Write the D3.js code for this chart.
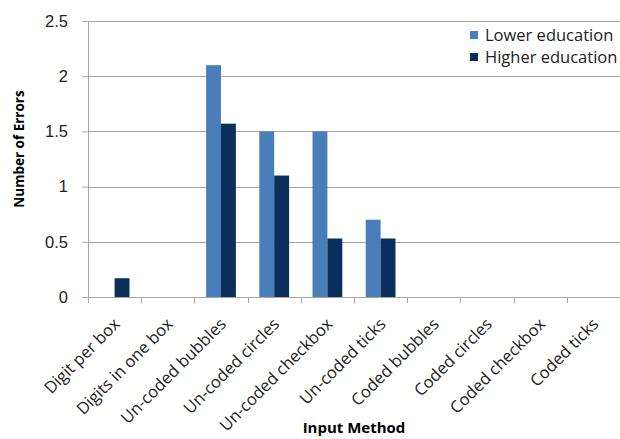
<!DOCTYPE html>
<html>
<head>
<meta charset="utf-8">
<script src="https://cdn.jsdelivr.net/npm/d3@7"></script>
<style>
  body { margin: 0; background: #fff; }
  svg { display: block; font-family: "Open Sans", "Noto Sans", sans-serif; }
</style>
</head>
<body>
<div id="chart"></div>
<script>
// categories along the x axis
var methods = ["Digit per box", "Digits in one box", "Un-coded bubbles", "Un-coded circles",
  "Un-coded checkbox", "Un-coded ticks", "Coded bubbles", "Coded circles",
  "Coded checkbox", "Coded ticks"];

// series values (errors)
var lowerEdu = [0, 0, 2.1, 1.5, 1.5, 0.7, 0, 0, 0, 0];
var higherEdu = [0.17, 0, 1.57, 1.1, 0.53, 0.53, 0, 0, 0, 0];

var seriesNames = ["Lower education", "Higher education"];
var yTicks = [0, 0.5, 1, 1.5, 2, 2.5];

var colors = ["#4a7ebb", "#0b2f5c"];

var margin = {top: 21, right: 0, bottom: 142, left: 88},
  width = 620 - margin.left - margin.right,
  height = 439 - margin.top - margin.bottom;

var svg = d3.select("#chart")
  .append("svg")
  .attr("width", 620)
  .attr("height", 439);

var g = svg.append("g")
  .attr("transform", "translate(" + margin.left + "," + margin.top + ")");

var x = d3.scaleBand()
  .domain(methods)
  .range([0, width])
  .padding(0);

// position of the two bars inside a category
var xSub = d3.scaleBand()
  .domain(seriesNames)
  .range([x.bandwidth() * 0.22, x.bandwidth() * 0.78]);

var y = d3.scaleLinear()
  .domain([0, 2.5])
  .range([height, 0]);

// gridlines
g.selectAll(".grid")
  .data(yTicks)
  .enter().append("line")
  .attr("x1", 0)
  .attr("x2", width)
  .attr("y1", function(d) { return Math.round(y(d)) + 0.5; })
  .attr("y2", function(d) { return Math.round(y(d)) + 0.5; })
  .attr("stroke", "#a6a6a6")
  .attr("stroke-width", 1);

// build rows from the arrays
var rows = methods.map(function(m, i) {
  return {method: m, values: [lowerEdu[i], higherEdu[i]]};
});

var groups = g.selectAll(".cat")
  .data(rows)
  .enter().append("g")
  .attr("transform", function(d) { return "translate(" + x(d.method) + ",0)"; });

groups.selectAll("rect")
  .data(function(d) {
    return d.values.map(function(v, j) { return {name: seriesNames[j], value: v, j: j}; });
  })
  .enter().append("rect")
  .filter(function(d) { return d.value > 0; })
  .attr("x", function(d) { return xSub(d.name); })
  .attr("width", xSub.bandwidth())
  .attr("y", function(d) { return y(d.value); })
  .attr("height", function(d) { return y(0) - y(d.value); })
  .attr("fill", function(d) { return colors[d.j]; });

// y axis
var yAxis = g.append("g")
  .call(d3.axisLeft(y).tickValues(yTicks).tickSize(6).tickPadding(14)
    .tickFormat(function(d) { return d; }));
yAxis.select(".domain").attr("stroke", "#a6a6a6").attr("d", "M0.5," + height + "V0");
yAxis.selectAll(".tick line").attr("stroke", "#a6a6a6");
yAxis.selectAll(".tick text")
  .attr("fill", "#222")
  .style("font-size", "16.5px");

// x axis
var xAxis = g.append("g")
  .attr("transform", "translate(0," + height + ")")
  .call(d3.axisBottom(x).tickSize(0).tickFormat(""));
xAxis.select(".domain").attr("stroke", "#a6a6a6");

// category boundary ticks
g.selectAll(".xtick")
  .data(methods.concat([null]))
  .enter().append("line")
  .attr("x1", function(d, i) { return Math.round(i * x.step()) + 0.5; })
  .attr("x2", function(d, i) { return Math.round(i * x.step()) + 0.5; })
  .attr("y1", height)
  .attr("y2", height + 6)
  .attr("stroke", "#a6a6a6");

// rotated labels
g.selectAll(".xlabel")
  .data(methods)
  .enter().append("text")
  .attr("transform", function(d) {
    return "translate(" + (x(d) + x.bandwidth() / 2 - 2) + "," + (height + 20) + ") rotate(-45)";
  })
  .attr("text-anchor", "end")
  .attr("dy", "0.7em")
  .attr("fill", "#222")
  .style("font-size", "16.5px")
  .text(function(d) { return d; });

// axis titles
svg.append("text")
  .attr("transform", "translate(24," + 149 + ") rotate(-90)")
  .attr("text-anchor", "middle")
  .style("font-size", "13.5px")
  .style("font-weight", "bold")
  .text("Number of Errors");

svg.append("text")
  .attr("x", 354)
  .attr("y", 433)
  .attr("text-anchor", "middle")
  .style("font-size", "15px")
  .style("font-weight", "bold")
  .text("Input Method");

// legend
var legend = svg.append("g")
  .attr("transform", "translate(470,30)");

var items = legend.selectAll("g")
  .data(seriesNames)
  .enter().append("g")
  .attr("transform", function(d, i) { return "translate(0," + (i * 22) + ")"; });

items.append("rect")
  .attr("width", 8)
  .attr("height", 8)
  .attr("y", 1)
  .attr("fill", function(d, i) { return colors[i]; });

items.append("text")
  .attr("x", 15)
  .attr("y", 5)
  .attr("dy", "0.35em")
  .attr("fill", "#222")
  .style("font-size", "16.5px")
  .text(function(d) { return d; });
</script>
</body>
</html>
